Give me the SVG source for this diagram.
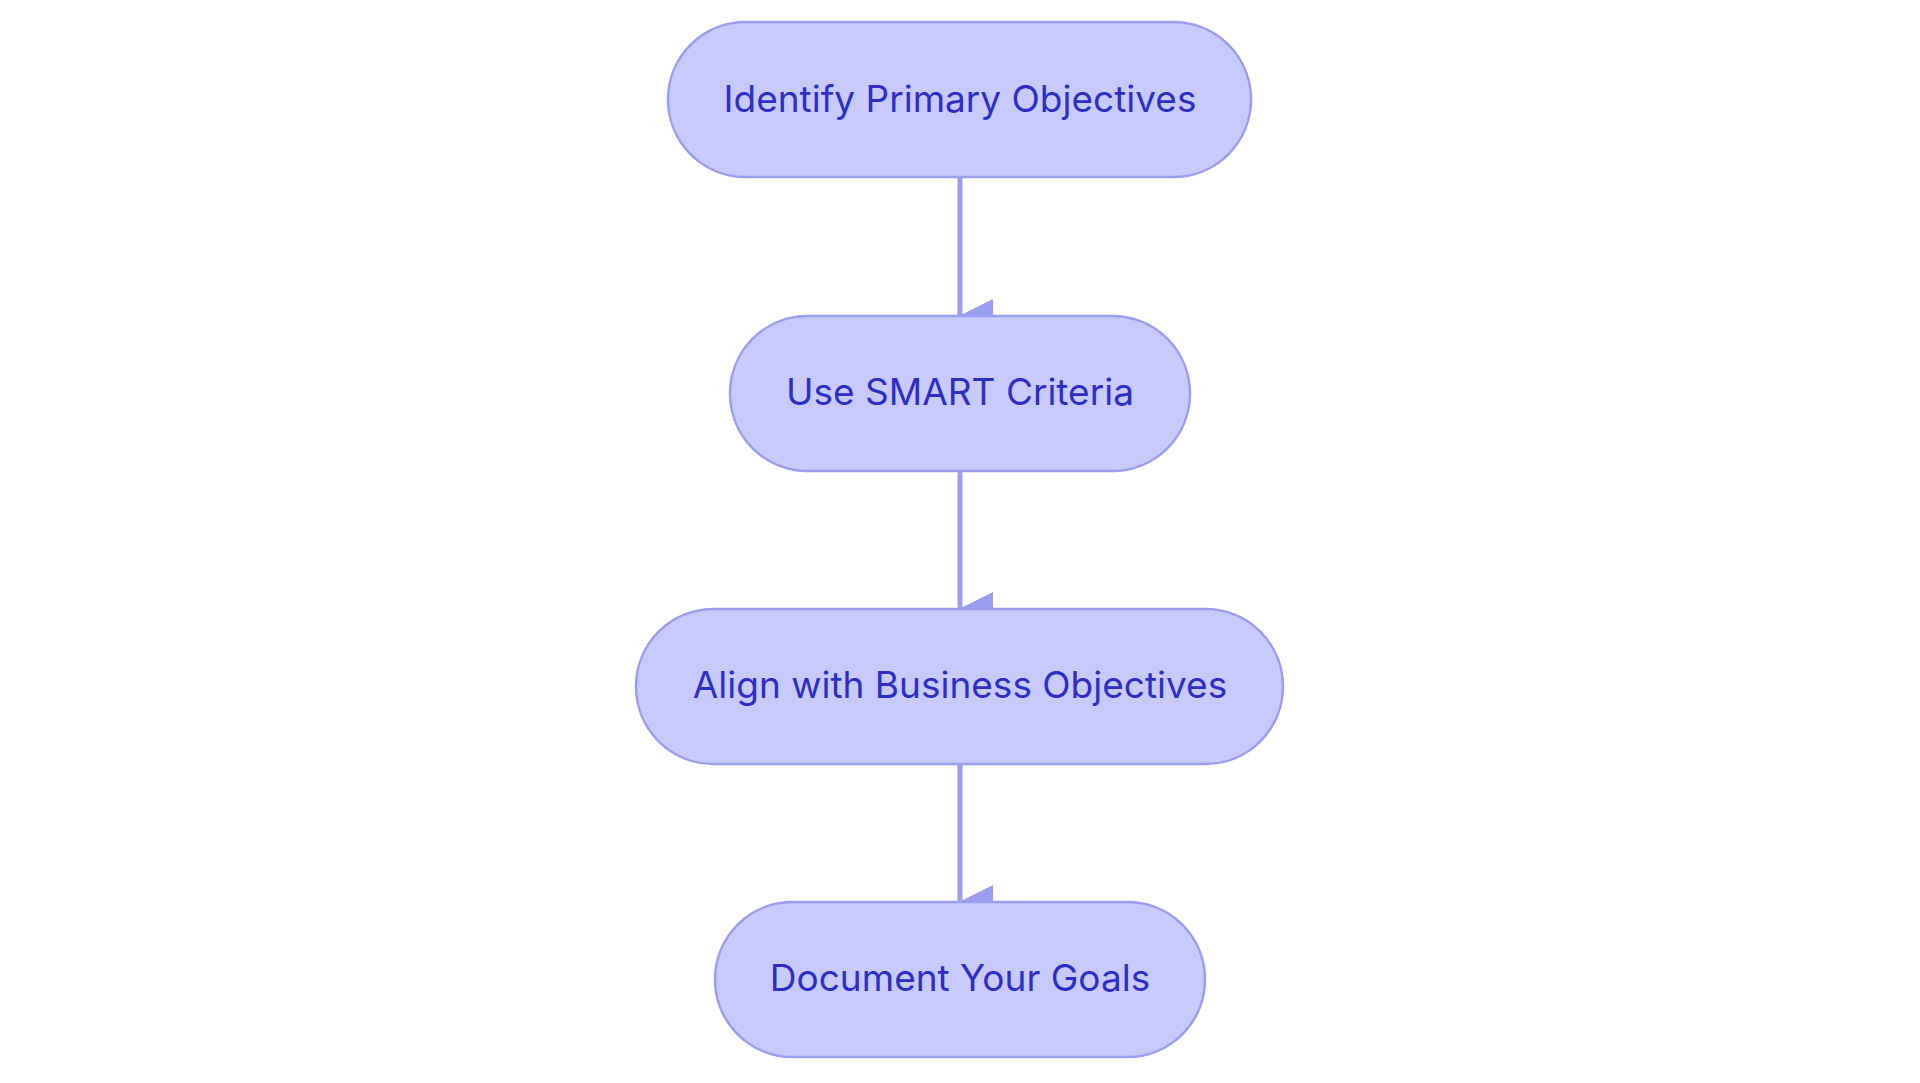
<svg xmlns="http://www.w3.org/2000/svg" width="1920" height="1083" viewBox="0 0 1920 1083">
<style>
.n{fill:#c9cafc;stroke:#9a9ef0;stroke-width:2.5}
.t{font-family:Inter,"Liberation Sans",sans-serif;font-size:37px;fill:#2c2fc6;text-anchor:middle;dominant-baseline:central}
.e{stroke:#9a9ef0;stroke-width:5;fill:none}
</style>
<defs><marker id="a" markerWidth="34" markerHeight="34" refX="16" refY="33" markerUnits="userSpaceOnUse" orient="auto" viewBox="0 0 34 34"><path d="M0 0H33L16.5 33Z" fill="#9a9ef0"/></marker></defs>
<rect width="1920" height="1083" fill="#fff"/>
<g id="edges">
<path class="e" d="M960 178V315" marker-end="url(#a)"/>
<path class="e" d="M960 471V608" marker-end="url(#a)"/>
<path class="e" d="M960 765V901" marker-end="url(#a)"/>
</g>
<g id="n1"><rect class="n" x="668" y="22" width="583" height="155" rx="77.5"/><text class="t" x="960" y="98">Identify Primary Objectives</text></g>
<g id="n2"><rect class="n" x="730" y="316" width="460" height="155" rx="77.5"/><text class="t" x="960" y="391">Use SMART Criteria</text></g>
<g id="n3"><rect class="n" x="636" y="609" width="647" height="155" rx="77.5"/><text class="t" x="960" y="684">Align with Business Objectives</text></g>
<g id="n4"><rect class="n" x="715" y="902" width="490" height="155" rx="77.5"/><text class="t" x="960" y="977">Document Your Goals</text></g>
</svg>
